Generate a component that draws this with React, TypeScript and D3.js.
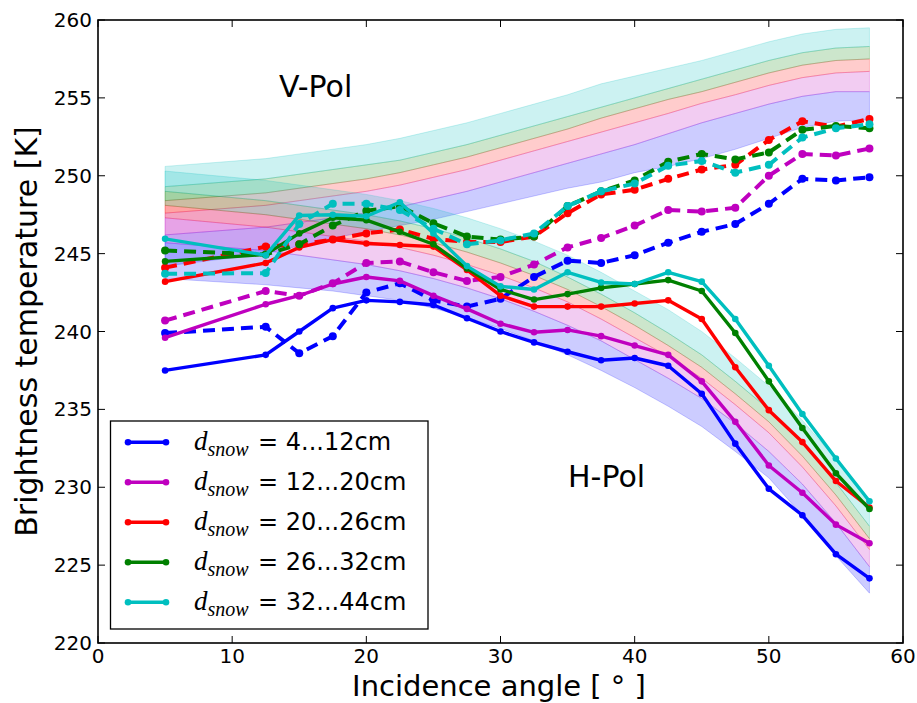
import React from "react";
import * as d3 from "d3";

// ---------- data ----------
const angles = [5, 12.5, 15, 17.5, 20, 22.5, 25, 27.5, 30, 32.5, 35, 37.5, 40, 42.5, 45, 47.5, 50, 52.5, 55, 57.5];

const depthLabels = ["4...12cm", "12...20cm", "20...26cm", "26...32cm", "32...44cm"];
const seriesColors = ["#0000ff", "#bf00bf", "#ff0000", "#008000", "#00bfbf"];

// measured H-pol (solid)
const hPol4to12 = [237.5, 238.5, 240.0, 241.5, 242.0, 241.9, 241.7, 240.85, 240.0, 239.3, 238.7, 238.15, 238.3, 237.8, 236.0, 232.8, 229.9, 228.2, 225.7, 224.15];
const hPol12to20 = [239.6, 241.75, 242.3, 243.05, 243.5, 243.25, 242.3, 241.45, 240.5, 239.95, 240.1, 239.7, 239.1, 238.5, 236.8, 234.2, 231.4, 229.65, 227.6, 226.4];
const hPol20to26 = [243.2, 244.4, 245.4, 245.9, 245.65, 245.55, 245.45, 243.95, 242.3, 241.6, 241.6, 241.6, 241.8, 242.0, 240.8, 237.7, 234.95, 232.9, 230.4, 228.7];
const hPol26to32 = [244.5, 244.95, 246.3, 247.3, 247.15, 246.4, 245.6, 244.05, 242.7, 242.05, 242.4, 242.8, 243.05, 243.3, 242.6, 239.9, 236.8, 233.8, 230.9, 228.6];
const hPol32to44 = [245.95, 244.9, 247.45, 247.5, 247.4, 248.3, 246.3, 244.2, 242.9, 242.7, 243.8, 243.15, 243.05, 243.8, 243.2, 240.8, 237.8, 234.7, 231.85, 229.1];

// measured V-pol (dashed)
const vPol4to12 = [239.9, 240.3, 238.6, 239.7, 242.5, 243.1, 242.0, 241.6, 242.1, 243.5, 244.55, 244.4, 244.9, 245.7, 246.4, 246.9, 248.2, 249.8, 249.7, 249.9];
const vPol12to20 = [240.7, 242.6, 242.3, 243.1, 244.4, 244.5, 243.8, 243.25, 243.5, 244.3, 245.4, 246.0, 246.8, 247.8, 247.7, 247.95, 250.0, 251.4, 251.3, 251.75];
const vPol20to26 = [244.1, 245.45, 245.6, 245.9, 246.3, 246.55, 245.95, 245.75, 245.75, 246.1, 247.6, 248.8, 249.1, 249.8, 250.4, 250.7, 252.3, 253.5, 253.15, 253.65];
const vPol26to32 = [245.2, 244.95, 245.6, 246.8, 247.75, 248.05, 246.95, 246.1, 245.9, 246.1, 248.05, 249.0, 249.7, 250.9, 251.4, 251.05, 251.5, 252.95, 253.2, 253.05];
const vPol32to44 = [243.7, 243.75, 246.9, 248.2, 248.2, 247.8, 246.6, 245.6, 245.85, 246.3, 248.05, 249.0, 249.5, 250.65, 250.95, 250.2, 250.7, 252.45, 253.05, 253.3];

// modelled band boundaries, V-pol (snow depth 4, 12, 20, 26, 32, 44 cm)
const vModel4 = [244.2, 245.0, 245.5, 246.0, 246.4, 246.8, 247.2, 247.7, 248.2, 248.7, 249.2, 249.6, 250.2, 250.6, 251.1, 251.7, 252.4, 253.1, 253.5, 253.6];
const vModel12 = [246.2, 246.7, 247.0, 247.3, 247.6, 248.0, 248.5, 249.0, 249.6, 250.2, 250.8, 251.4, 252.0, 252.7, 253.4, 254.0, 254.6, 255.1, 255.4, 255.4];
const vModel20 = [247.6, 248.1, 248.4, 248.7, 249.0, 249.4, 249.9, 250.4, 251.0, 251.6, 252.2, 252.8, 253.4, 254.0, 254.65, 255.2, 255.8, 256.3, 256.6, 256.7];
const vModel26 = [248.4, 248.9, 249.2, 249.5, 249.8, 250.2, 250.7, 251.2, 251.8, 252.4, 253.0, 253.7, 254.3, 254.9, 255.4, 256.0, 256.6, 257.1, 257.4, 257.5];
const vModel32 = [249.3, 249.8, 250.1, 250.4, 250.7, 251.0, 251.5, 252.0, 252.6, 253.2, 253.8, 254.4, 255.0, 255.6, 256.2, 256.8, 257.4, 257.9, 258.2, 258.3];
const vModel44 = [250.6, 251.1, 251.4, 251.7, 252.0, 252.4, 252.9, 253.4, 254.0, 254.6, 255.2, 255.9, 256.4, 256.9, 257.4, 258.0, 258.6, 259.1, 259.4, 259.5];

// modelled band boundaries, H-pol
const hModel4 = [243.4, 243.0, 242.8, 242.6, 242.3, 242.0, 241.5, 240.9, 240.2, 239.4, 238.5, 237.5, 236.4, 235.2, 233.9, 232.3, 230.6, 228.2, 225.6, 223.2];
const hModel12 = [245.7, 245.2, 244.9, 244.6, 244.3, 243.9, 243.4, 242.8, 242.1, 241.3, 240.4, 239.4, 238.2, 237.0, 235.7, 234.1, 232.3, 230.2, 227.7, 224.9];
const hModel20 = [247.3, 246.7, 246.4, 246.1, 245.8, 245.4, 244.9, 244.3, 243.6, 242.8, 241.9, 240.8, 239.6, 238.4, 237.0, 235.3, 233.5, 231.3, 228.8, 226.0];
const hModel26 = [248.1, 247.5, 247.2, 246.9, 246.6, 246.2, 245.7, 245.1, 244.4, 243.6, 242.7, 241.6, 240.4, 239.1, 237.7, 236.0, 234.2, 232.0, 229.5, 226.7];
const hModel32 = [249.0, 248.4, 248.1, 247.8, 247.5, 247.1, 246.6, 246.0, 245.3, 244.5, 243.5, 242.4, 241.2, 239.9, 238.5, 236.8, 235.0, 232.8, 230.3, 227.5];
const hModel44 = [250.3, 249.7, 249.4, 249.1, 248.8, 248.4, 247.9, 247.3, 246.6, 245.8, 244.9, 243.8, 242.6, 241.4, 240.0, 238.3, 236.5, 234.3, 231.8, 229.0];

const xTicks = [0, 10, 20, 30, 40, 50, 60];
const yTicks = [220, 225, 230, 235, 240, 245, 250, 255, 260];

// ---------- layout ----------
const W = 917, H = 703;
const L = 98, R = 903, T = 20, B = 643;

export default function App() {
  const x = d3.scaleLinear().domain([0, 60]).range([L, R]);
  const y = d3.scaleLinear().domain([220, 260]).range([B, T]);

  const hMeas = [hPol4to12, hPol12to20, hPol20to26, hPol26to32, hPol32to44];
  const vMeas = [vPol4to12, vPol12to20, vPol20to26, vPol26to32, vPol32to44];
  const vBounds = [vModel4, vModel12, vModel20, vModel26, vModel32, vModel44];
  const hBounds = [hModel4, hModel12, hModel20, hModel26, hModel32, hModel44];

  const area = (lo: number[], hi: number[]) =>
    d3.area<number>()
      .x((_, i) => x(angles[i]))
      .y0((_, i) => y(lo[i]))
      .y1((_, i) => y(hi[i]))(angles) as string;

  const line = (vals: number[]) =>
    d3.line<number>()
      .x((_, i) => x(angles[i]))
      .y((v) => y(v))(vals) as string;

  const font = "'DejaVu Sans', sans-serif";
  const legendRows = [442.3, 482.3, 522.3, 562.3, 602.3];

  return (
    <svg width={W} height={H} style={{ position: "absolute", left: 0, top: 0, background: "#fff" }}>
      <rect x={0} y={0} width={W} height={H} fill="#fff" />
      {/* bands */}
      {seriesColors.map((c, k) => (
        <path key={"vb" + k} d={area(vBounds[k], vBounds[k + 1])} fill={c} fillOpacity={0.2} stroke={c} strokeOpacity={0.2} strokeWidth={1} />
      ))}
      {seriesColors.map((c, k) => (
        <path key={"hb" + k} d={area(hBounds[k], hBounds[k + 1])} fill={c} fillOpacity={0.2} stroke={c} strokeOpacity={0.2} strokeWidth={1} />
      ))}
      {/* measured lines */}
      {seriesColors.map((c, k) => (
        <g key={"ln" + k}>
          <path d={line(hMeas[k])} fill="none" stroke={c} strokeWidth={3.4} strokeLinejoin="round" />
          {hMeas[k].map((v, i) => (
            <circle key={i} cx={x(angles[i])} cy={y(v)} r={3.3} fill={c} />
          ))}
          <path d={line(vMeas[k])} fill="none" stroke={c} strokeWidth={4} strokeDasharray="12 7" strokeLinejoin="round" />
          {vMeas[k].map((v, i) => (
            <circle key={i} cx={x(angles[i])} cy={y(v)} r={4} fill={c} />
          ))}
        </g>
      ))}
      {/* frame */}
      <rect x={L} y={T} width={R - L} height={B - T} fill="none" stroke="#000" strokeWidth={1.6} />
      {/* ticks */}
      {xTicks.map((t) => (
        <g key={"xt" + t}>
          <line x1={x(t)} x2={x(t)} y1={B} y2={B - 7} stroke="#000" strokeWidth={1} />
          <line x1={x(t)} x2={x(t)} y1={T} y2={T + 7} stroke="#000" strokeWidth={1} />
          <text x={x(t)} y={663} textAnchor="middle" fontFamily={font} fontSize={20}>{t}</text>
        </g>
      ))}
      {yTicks.map((t) => (
        <g key={"yt" + t}>
          <line x1={L} x2={L + 7} y1={y(t)} y2={y(t)} stroke="#000" strokeWidth={1} />
          <line x1={R} x2={R - 7} y1={y(t)} y2={y(t)} stroke="#000" strokeWidth={1} />
          <text x={92} y={y(t) + 7} textAnchor="end" fontFamily={font} fontSize={20}>{t}</text>
        </g>
      ))}
      {/* axis labels */}
      <text x={499} y={696} textAnchor="middle" fontFamily={font} fontSize={29}>Incidence angle [ ° ]</text>
      <text transform={`translate(37,${(T + B) / 2}) rotate(-90)`} textAnchor="middle" fontFamily={font} fontSize={30}>Brightness temperature [K]</text>
      {/* annotations */}
      <text x={279} y={97} fontFamily={font} fontSize={30}>V-Pol</text>
      <text x={568} y={487} fontFamily={font} fontSize={30}>H-Pol</text>
      {/* legend */}
      <rect x={110.5} y={421} width={317.5} height={208} fill="#fff" stroke="#000" strokeWidth={1.3} />
      {depthLabels.map((lab, k) => (
        <g key={"lg" + k}>
          <line x1={128} x2={166} y1={legendRows[k]} y2={legendRows[k]} stroke={seriesColors[k]} strokeWidth={3.4} />
          <circle cx={128} cy={legendRows[k]} r={3.3} fill={seriesColors[k]} />
          <circle cx={166} cy={legendRows[k]} r={3.3} fill={seriesColors[k]} />
          <text x={194} y={legendRows[k] + 8}>
            <tspan fontFamily="'Liberation Serif', serif" fontStyle="italic" fontSize={27}>d</tspan>
            <tspan fontFamily="'Liberation Serif', serif" fontStyle="italic" fontSize={20} dy={6}>snow</tspan>
            <tspan x={258} dy={-6} fontFamily={font} fontSize={24}>{"= " + lab}</tspan>
          </text>
        </g>
      ))}
    </svg>
  );
}
